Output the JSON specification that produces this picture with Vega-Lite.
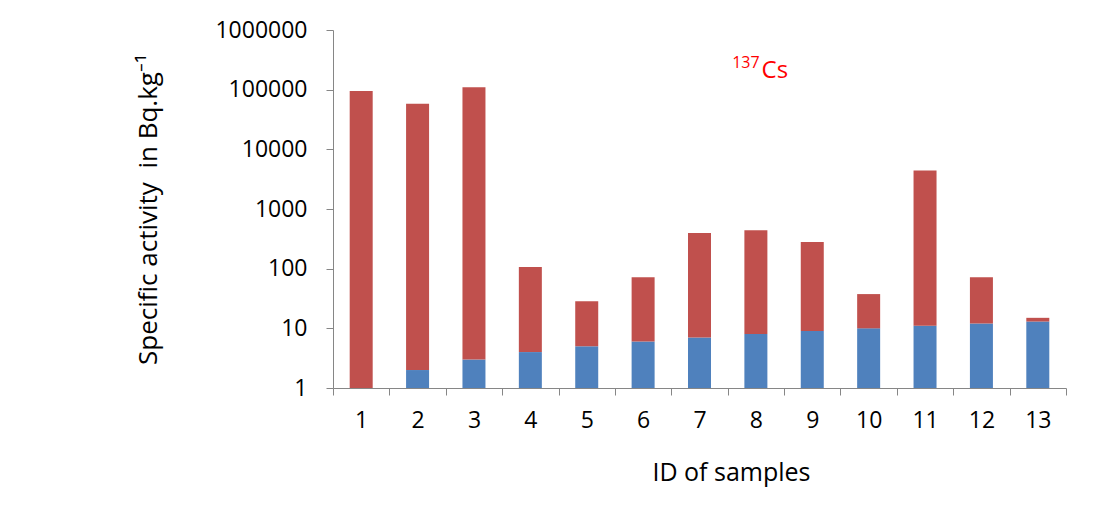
{
  "$schema": "https://vega.github.io/schema/vega-lite/v6.json",
  "autosize": "none",
  "width": 733,
  "height": 358,
  "padding": {"left": 333, "top": 30, "right": 27, "bottom": 138},
  "background": "white",
  "config": {
    "view": {"stroke": null},
    "font": "Open Sans",
    "axis": {"grid": false, "domainColor": "#868686", "tickColor": "#868686", "labelColor": "#000000", "titleColor": "#000000", "labelFont": "Open Sans", "titleFont": "Open Sans", "titleFontWeight": "normal"}
  },
  "datasets": {
    "bars": [
      {"id": "1", "series": "ID", "low": 1, "high": 1},
      {"id": "2", "series": "ID", "low": 1, "high": 2},
      {"id": "3", "series": "ID", "low": 1, "high": 3},
      {"id": "4", "series": "ID", "low": 1, "high": 4},
      {"id": "5", "series": "ID", "low": 1, "high": 5},
      {"id": "6", "series": "ID", "low": 1, "high": 6},
      {"id": "7", "series": "ID", "low": 1, "high": 7},
      {"id": "8", "series": "ID", "low": 1, "high": 8},
      {"id": "9", "series": "ID", "low": 1, "high": 9},
      {"id": "10", "series": "ID", "low": 1, "high": 10},
      {"id": "11", "series": "ID", "low": 1, "high": 11},
      {"id": "12", "series": "ID", "low": 1, "high": 12},
      {"id": "13", "series": "ID", "low": 1, "high": 13},
      {"id": "1", "series": "Cs137", "low": 1, "high": 95000},
      {"id": "2", "series": "Cs137", "low": 2, "high": 58000},
      {"id": "3", "series": "Cs137", "low": 3, "high": 110000},
      {"id": "4", "series": "Cs137", "low": 4, "high": 107},
      {"id": "5", "series": "Cs137", "low": 5, "high": 28.5},
      {"id": "6", "series": "Cs137", "low": 6, "high": 72},
      {"id": "7", "series": "Cs137", "low": 7, "high": 396},
      {"id": "8", "series": "Cs137", "low": 8, "high": 440},
      {"id": "9", "series": "Cs137", "low": 9, "high": 280},
      {"id": "10", "series": "Cs137", "low": 10, "high": 37.5},
      {"id": "11", "series": "Cs137", "low": 11, "high": 4400},
      {"id": "12", "series": "Cs137", "low": 12, "high": 72},
      {"id": "13", "series": "Cs137", "low": 13, "high": 15}
    ],
    "notes": [
      {"id": "8", "text": "Cs", "y": 156000, "part": "main"},
      {"id": "8", "text": "137", "y": 230000, "part": "sup"}
    ]
  },
  "layer": [
    {
      "data": {"name": "bars"},
      "mark": {"type": "bar", "width": 23},
      "encoding": {
        "x": {
          "field": "id", "type": "ordinal", "sort": null,
          "scale": {"paddingInner": 0, "paddingOuter": 0},
          "axis": {"labelAngle": 0, "title": "ID of samples", "titleFontSize": 25, "labelFontSize": 23, "tickSize": 7, "tickBand": "extent", "labelPadding": 14, "titleX": 398, "titleY": 84, "titleBaseline": "middle", "titleAnchor": "middle", "titleAlign": "center"}
        },
        "y": {
          "field": "high", "type": "quantitative",
          "scale": {"type": "log", "domain": [1, 1000000]},
          "axis": {"title": "Specific activity \u00a0in Bq.kg⁻¹", "values": [1, 10, 100, 1000, 10000, 100000, 1000000], "format": "d", "labelFontSize": 23, "titleFontSize": 26, "tickSize": 7, "labelPadding": 19, "titleX": -185, "titleY": 179, "titleBaseline": "middle", "titleAlign": "center", "titleAngle": -90}
        },
        "y2": {"field": "low"},
        "color": {
          "field": "series", "type": "nominal",
          "scale": {"domain": ["ID", "Cs137"], "range": ["#4F81BD", "#C0504D"]},
          "legend": null
        }
      }
    },
    {
      "data": {"name": "notes"},
      "transform": [{"filter": "datum.part == 'main'"}],
      "mark": {"type": "text", "color": "#FF0000", "fontSize": 24, "dx": 19, "align": "center", "baseline": "alphabetic", "font": "Open Sans"},
      "encoding": {
        "x": {"field": "id", "type": "ordinal", "sort": null},
        "y": {"field": "y", "type": "quantitative"},
        "text": {"field": "text"}
      }
    },
    {
      "data": {"name": "notes"},
      "transform": [{"filter": "datum.part == 'sup'"}],
      "mark": {"type": "text", "color": "#FF0000", "fontSize": 16, "dx": -10, "align": "center", "baseline": "alphabetic", "font": "Open Sans"},
      "encoding": {
        "x": {"field": "id", "type": "ordinal", "sort": null},
        "y": {"field": "y", "type": "quantitative"},
        "text": {"field": "text"}
      }
    }
  ]
}
